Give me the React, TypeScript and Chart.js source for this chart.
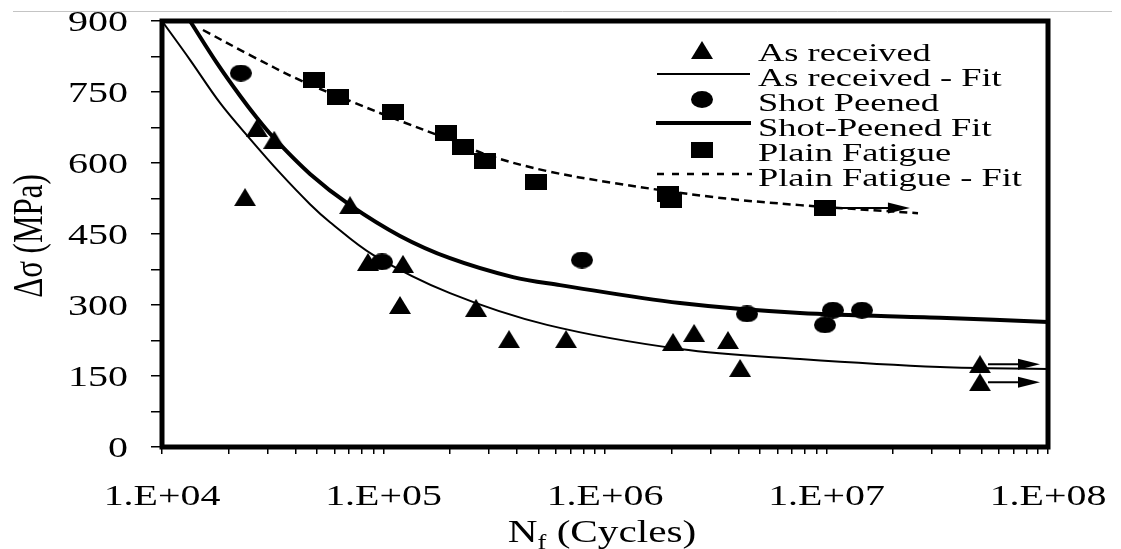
import React, { useEffect, useRef } from 'react';
import { Chart, registerables } from 'chart.js';

Chart.register(...registerables);

// ---------- data ----------
const asReceivedN = [23700, 26800, 32100, 70600, 85100, 122400, 118700, 261600, 368700, 667000, 2028000, 2524000, 3590000, 4074000, 49300000, 49300000];
const asReceivedS = [528, 674, 649, 511, 391, 387, 300, 294, 228, 228, 222, 241, 226, 167, 175, 137];

const shotPeenedN = [22700, 98400, 787000, 4377000, 9840000, 10690000, 14450000];
const shotPeenedS = [790, 391, 395, 281, 258, 289, 289];

const plainFatigueN = [48500, 62400, 110400, 191300, 228600, 287000, 487000, 1923000, 1985000, 9840000];
const plainFatigueS = [775, 739, 708, 663, 634, 604, 560, 535, 522, 505];

const asReceivedFitN = [10000, 13380, 18280, 24960, 34100, 46580, 57350, 89700, 199600, 547200, 2181000, 7593000, 32540000, 100000000];
const asReceivedFitS = [900, 818, 727, 651, 579, 513, 475, 406, 325, 258, 207, 186, 169, 165];

const shotPeenedFitN = [13380, 17710, 22500, 26850, 31700, 46580, 70630, 118700, 199600, 384400, 626500, 2181000, 7593000, 32540000, 100000000];
const shotPeenedFitS = [900, 811, 742, 695, 655, 577, 511, 446, 399, 359, 342, 304, 283, 273, 264];

const plainFatigueFitN = [15310, 24960, 41980, 70630, 118700, 199600, 302600, 547200, 1087000, 3073000, 7593000, 25890000];
const plainFatigueFitS = [881, 828, 775, 731, 689, 649, 615, 583, 558, 528, 511, 494];

// run-outs: [N from, stress, N arrow tip]
const runoutFromN = [49300000, 49300000, 9840000];
const runoutS = [175, 137, 505];
const runoutToN = [92000000, 92000000, 23800000];

const xMajorTicks = [1e4, 1e5, 1e6, 1e7, 1e8];
const xTickLabels = ['1.E+04', '1.E+05', '1.E+06', '1.E+07', '1.E+08'];
const xMinorMultipliers = [2, 3, 4, 5, 6, 7, 8, 9];
const yTickLabels = [0, 150, 300, 450, 600, 750, 900];

const legendLabels = ['As received', 'As received - Fit', 'Shot Peened', 'Shot-Peened Fit', 'Plain Fatigue', 'Plain Fatigue - Fit'];

const xAxisTitleMain = 'N';
const xAxisTitleSub = 'f';
const xAxisTitleRest = ' (Cycles)';
const yAxisTitle = 'Δσ (MPa)';

// ---------- helpers ----------
const FONT = '"Liberation Serif", "Times New Roman", serif';

function makeMarker(kind: string, w: number, h: number): HTMLCanvasElement {
  const c = document.createElement('canvas');
  c.width = w;
  c.height = h;
  const g = c.getContext('2d')!;
  g.fillStyle = '#000';
  g.beginPath();
  if (kind === 'tri') {
    g.moveTo(w / 2, 0);
    g.lineTo(w, h);
    g.lineTo(0, h);
    g.closePath();
  } else if (kind === 'circ') {
    g.ellipse(w / 2, h / 2, w / 2, h / 2, 0, 0, Math.PI * 2);
  } else {
    g.rect(0, 0, w, h);
  }
  g.fill();
  return c;
}

function stretchText(ctx: CanvasRenderingContext2D, text: string, x: number, y: number, size: number, sx: number, align: CanvasTextAlign) {
  ctx.save();
  ctx.translate(x, y);
  ctx.scale(sx, 1);
  ctx.font = `${size}px ${FONT}`;
  ctx.textAlign = align;
  ctx.textBaseline = 'alphabetic';
  ctx.fillStyle = '#000';
  ctx.fillText(text, 0, 0);
  ctx.restore();
}

function pairs(n: number[], s: number[]) {
  return n.map((v, i) => ({ x: v, y: s[i] }));
}

export default function App() {
  const ref = useRef<HTMLCanvasElement | null>(null);

  useEffect(() => {
    if (!ref.current) return;
    const triImg = makeMarker('tri', 22, 18);
    const circImg = makeMarker('circ', 22, 17);
    const sqImg = makeMarker('sq', 22, 16);

    const decor = {
      id: 'decor',
      beforeDraw(chart: any) {
        const ctx = chart.ctx as CanvasRenderingContext2D;
        ctx.save();
        ctx.strokeStyle = '#c4c4c4';
        ctx.lineWidth = 1;
        ctx.beginPath();
        ctx.moveTo(13, 11.5);
        ctx.lineTo(1112, 11.5);
        ctx.stroke();
        ctx.restore();
      },
      afterDatasetsDraw(chart: any) {
        const ctx = chart.ctx as CanvasRenderingContext2D;
        const xs = chart.scales.x;
        const ys = chart.scales.y;
        ctx.save();
        ctx.strokeStyle = '#000';
        ctx.fillStyle = '#000';
        ctx.lineWidth = 2;
        runoutFromN.forEach((n0, i) => {
          const x0 = xs.getPixelForValue(n0) + 8;
          const x1 = xs.getPixelForValue(runoutToN[i]);
          const y = ys.getPixelForValue(runoutS[i]);
          ctx.beginPath();
          ctx.moveTo(x0, y);
          ctx.lineTo(x1 - 18, y);
          ctx.stroke();
          ctx.beginPath();
          ctx.moveTo(x1, y);
          ctx.lineTo(x1 - 22, y - 5.5);
          ctx.lineTo(x1 - 22, y + 5.5);
          ctx.closePath();
          ctx.fill();
        });
        ctx.restore();
      },
      afterDraw(chart: any) {
        const ctx = chart.ctx as CanvasRenderingContext2D;
        const a = chart.chartArea;
        const xs = chart.scales.x;
        const ys = chart.scales.y;
        ctx.save();
        // frame
        ctx.strokeStyle = '#000';
        ctx.lineWidth = 5;
        ctx.strokeRect(a.left, a.top, a.right - a.left, a.bottom - a.top);

        // y tick labels
        yTickLabels.forEach((v) => {
          const y = ys.getPixelForValue(v);
          stretchText(ctx, String(v), 128, y + 10, 29, 1.38, 'right');
        });
        // x tick labels
        xMajorTicks.forEach((v, i) => {
          const x = xs.getPixelForValue(v);
          stretchText(ctx, xTickLabels[i], x, 505, 30, 1.33, 'center');
        });

        // x title with subscript
        ctx.font = `31px ${FONT}`;
        const sx = 1.33;
        const w1 = ctx.measureText(xAxisTitleMain).width * sx;
        ctx.font = `20px ${FONT}`;
        const w2 = ctx.measureText(xAxisTitleSub).width * sx;
        ctx.font = `31px ${FONT}`;
        const w3 = ctx.measureText(xAxisTitleRest).width * sx;
        const cx = (a.left + a.right) / 2 - 3;
        let tx = cx - (w1 + w2 + w3) / 2;
        stretchText(ctx, xAxisTitleMain, tx, 542, 31, sx, 'left');
        tx += w1;
        stretchText(ctx, xAxisTitleSub, tx, 549, 20, sx, 'left');
        tx += w2;
        stretchText(ctx, xAxisTitleRest, tx, 542, 31, sx, 'left');

        // y title rotated
        ctx.save();
        ctx.translate(42, (a.top + a.bottom) / 2 + 2);
        ctx.rotate(-Math.PI / 2);
        ctx.scale(1, 1.33);
        ctx.font = `31px ${FONT}`;
        ctx.textAlign = 'center';
        ctx.textBaseline = 'alphabetic';
        ctx.fillStyle = '#000';
        ctx.fillText(yAxisTitle, 0, 0);
        ctx.restore();

        // legend
        const rows = [52, 77, 102, 127, 152, 177];
        const mx = 702;
        ctx.drawImage(triImg, mx - 11, rows[0] - 11);
        ctx.lineWidth = 2;
        ctx.beginPath();
        ctx.moveTo(657, rows[1] - 3);
        ctx.lineTo(750, rows[1] - 3);
        ctx.stroke();
        ctx.drawImage(circImg, mx - 11, rows[2] - 11);
        ctx.lineWidth = 4;
        ctx.beginPath();
        ctx.moveTo(656, rows[3] - 4);
        ctx.lineTo(751, rows[3] - 4);
        ctx.stroke();
        ctx.drawImage(sqImg, mx - 11, rows[4] - 10);
        ctx.lineWidth = 2.5;
        ctx.setLineDash([7, 8]);
        ctx.beginPath();
        ctx.moveTo(657, rows[5] - 3);
        ctx.lineTo(752, rows[5] - 3);
        ctx.stroke();
        ctx.setLineDash([]);
        legendLabels.forEach((t, i) => {
          stretchText(ctx, t, 758, rows[i] + 8.5, 26, 1.4, 'left');
        });
        ctx.restore();
      },
    };

    const chart = new Chart(ref.current, {
      type: 'scatter',
      data: {
        datasets: [
          {
            label: legendLabels[1],
            data: pairs(asReceivedFitN, asReceivedFitS),
            showLine: true,
            borderColor: '#000',
            borderWidth: 2,
            pointRadius: 0,
            tension: 0.35,
            clip: false,
          },
          {
            label: legendLabels[3],
            data: pairs(shotPeenedFitN, shotPeenedFitS),
            showLine: true,
            borderColor: '#000',
            borderWidth: 4,
            pointRadius: 0,
            tension: 0.35,
            clip: false,
          },
          {
            label: legendLabels[5],
            data: pairs(plainFatigueFitN, plainFatigueFitS),
            showLine: true,
            borderColor: '#000',
            borderWidth: 2.5,
            borderDash: [8, 5],
            pointRadius: 0,
            tension: 0.35,
            clip: false,
          },
          {
            label: legendLabels[0],
            data: pairs(asReceivedN, asReceivedS),
            pointStyle: triImg,
            pointRadius: 11,
            clip: false,
          },
          {
            label: legendLabels[2],
            data: pairs(shotPeenedN, shotPeenedS),
            pointStyle: circImg,
            pointRadius: 11,
            clip: false,
          },
          {
            label: legendLabels[4],
            data: pairs(plainFatigueN, plainFatigueS),
            pointStyle: sqImg,
            pointRadius: 11,
            clip: false,
          },
        ] as any,
      },
      options: {
        animation: false,
        responsive: true,
        maintainAspectRatio: false,
        layout: { padding: { left: 151, right: 73, top: 21, bottom: 95 } },
        plugins: {
          legend: { display: false },
          tooltip: { enabled: false },
        },
        scales: {
          x: {
            type: 'logarithmic',
            min: 1e4,
            max: 1e8,
            afterBuildTicks: (scale: any) => {
              const t: any[] = [];
              xMajorTicks.forEach((d, i) => {
                t.push({ value: d, major: true });
                if (i < xMajorTicks.length - 1) xMinorMultipliers.forEach((m) => t.push({ value: d * m, major: false }));
              });
              scale.ticks = t;
            },
            ticks: { display: false },
            grid: { drawOnChartArea: false, drawTicks: true, tickLength: 7, color: '#000', lineWidth: 1.5 },
            border: { display: false },
          },
          y: {
            type: 'linear',
            min: 0,
            max: 900,
            ticks: { display: false, stepSize: 75 },
            grid: { drawOnChartArea: false, drawTicks: true, tickLength: 11, color: '#000', lineWidth: 1.5 },
            border: { display: false },
          },
        },
      } as any,
      plugins: [decor],
    });
    return () => chart.destroy();
  }, []);

  return (
    <div style={{ position: 'fixed', left: 0, top: 0, width: 1121, height: 549, background: '#fff' }}>
      <canvas ref={ref} />
    </div>
  );
}
